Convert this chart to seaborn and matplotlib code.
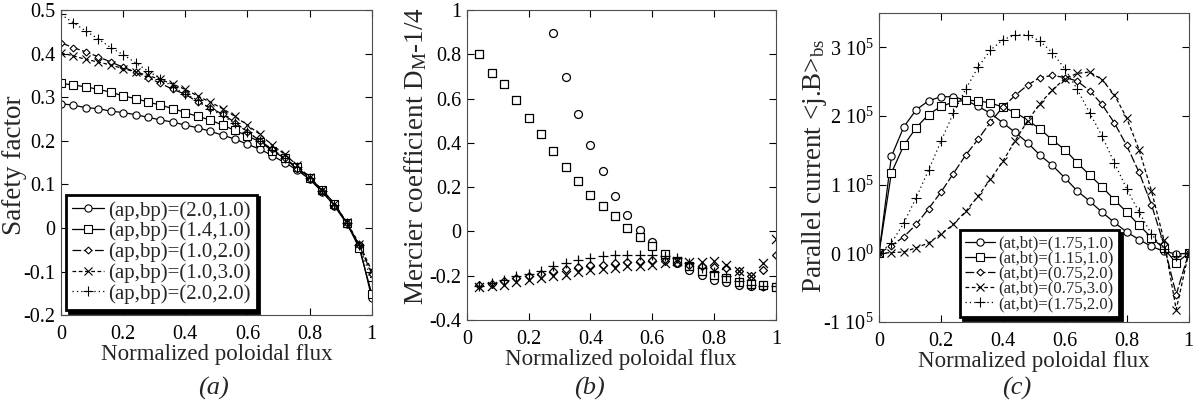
import numpy as np
import pandas as pd
import matplotlib.pyplot as plt
import seaborn as sns
from matplotlib.ticker import FuncFormatter

# eje x comun: flujo poloidal normalizado
flux = [0.00, 0.04, 0.08, 0.12, 0.16, 0.20, 0.24, 0.28, 0.32, 0.36, 0.40, 0.44, 0.48,
        0.52, 0.56, 0.60, 0.64, 0.68, 0.72, 0.76, 0.80, 0.84, 0.88, 0.92, 0.96, 1.00]

# (a) factor de seguridad
labels_a = ['(ap,bp)=(2.0,1.0)', '(ap,bp)=(1.4,1.0)', '(ap,bp)=(1.0,2.0)',
            '(ap,bp)=(1.0,3.0)', '(ap,bp)=(2.0,2.0)']
q_21 = [0.285, 0.282, 0.276, 0.274, 0.268, 0.265, 0.260, 0.254, 0.248, 0.243, 0.236, 0.230, 0.222,
        0.213, 0.204, 0.192, 0.181, 0.166, 0.150, 0.133, 0.112, 0.083, 0.051, 0.009, -0.040, -0.161]
q_1410 = [0.332, 0.328, 0.324, 0.318, 0.312, 0.303, 0.297, 0.289, 0.282, 0.274, 0.265, 0.256, 0.248,
          0.236, 0.224, 0.211, 0.198, 0.177, 0.160, 0.139, 0.115, 0.088, 0.056, 0.011, -0.047, -0.151]
q_12 = [0.425, 0.414, 0.404, 0.393, 0.381, 0.369, 0.358, 0.345, 0.332, 0.318, 0.307, 0.289, 0.276,
        0.261, 0.242, 0.221, 0.200, 0.181, 0.160, 0.135, 0.112, 0.085, 0.051, 0.011, -0.040, -0.105]
q_13 = [0.402, 0.395, 0.387, 0.381, 0.374, 0.366, 0.358, 0.350, 0.341, 0.330, 0.318, 0.303, 0.289,
        0.274, 0.256, 0.236, 0.215, 0.190, 0.169, 0.144, 0.116, 0.088, 0.055, 0.013, -0.037, -0.098]
q_22 = [0.490, 0.471, 0.452, 0.434, 0.414, 0.398, 0.379, 0.360, 0.343, 0.324, 0.307, 0.294, 0.274,
        0.257, 0.240, 0.221, 0.200, 0.179, 0.160, 0.139, 0.114, 0.085, 0.053, 0.011, -0.040, -0.121]

# (b) coeficiente de Mercier (solo puntos)
flux_b = flux[1:]
flux_b_circ = flux[7:]
dm_21 = [0.898, 0.699, 0.529, 0.389, 0.271, 0.161, 0.072, 0.005, -0.050, -0.105, -0.143, -0.173,
         -0.195, -0.218, -0.230, -0.241, -0.245, -0.248, -0.251]
dm_1410 = [0.800, 0.717, 0.665, 0.594, 0.511, 0.439, 0.365, 0.290, 0.229, 0.165, 0.117, 0.068,
           0.015, -0.027, -0.068, -0.102, -0.132, -0.158, -0.180, -0.195, -0.211, -0.230, -0.238,
           -0.241, -0.251]
dm_12 = [-0.244, -0.236, -0.226, -0.211, -0.200, -0.191, -0.180, -0.170, -0.161, -0.153, -0.150,
         -0.143, -0.138, -0.135, -0.131, -0.135, -0.143, -0.150, -0.158, -0.161, -0.167, -0.180,
         -0.200, -0.175, -0.105]
dm_13 = [-0.251, -0.245, -0.241, -0.230, -0.221, -0.211, -0.203, -0.195, -0.185, -0.176, -0.170,
         -0.165, -0.158, -0.155, -0.150, -0.143, -0.135, -0.140, -0.140, -0.135, -0.150, -0.180,
         -0.200, -0.143, -0.035]
dm_22 = [-0.245, -0.233, -0.218, -0.203, -0.192, -0.177, -0.158, -0.143, -0.131, -0.120, -0.113,
         -0.108, -0.105, -0.105, -0.105, -0.110, -0.120, -0.143, -0.165, -0.185, -0.203, -0.226,
         -0.241, -0.245, -0.248]

# (c) corriente paralela bootstrap
labels_c = ['(at,bt)=(1.75,1.0)', '(at,bt)=(1.15,1.0)', '(at,bt)=(0.75,2.0)',
            '(at,bt)=(0.75,3.0)', '(at,bt)=(1.75,2.0)']
jb_17510 = [0, 1.41e5, 1.84e5, 2.09e5, 2.22e5, 2.28e5, 2.28e5, 2.23e5, 2.14e5, 2.04e5, 1.90e5,
            1.76e5, 1.61e5, 1.43e5, 1.28e5, 1.10e5, 0.91e5, 0.76e5, 0.60e5, 0.45e5, 0.31e5,
            0.20e5, 0.10e5, 0.03e5, -0.01e5, 0]
jb_11510 = [0, 1.17e5, 1.57e5, 1.83e5, 2.02e5, 2.14e5, 2.20e5, 2.23e5, 2.22e5, 2.19e5, 2.13e5,
            2.05e5, 1.94e5, 1.81e5, 1.65e5, 1.51e5, 1.32e5, 1.14e5, 0.97e5, 0.78e5, 0.60e5,
            0.41e5, 0.23e5, 0.07e5, -0.14e5, 0]
jb_07520 = [0, 0.11e5, 0.24e5, 0.42e5, 0.65e5, 0.89e5, 1.16e5, 1.43e5, 1.66e5, 1.91e5, 2.13e5,
            2.30e5, 2.45e5, 2.56e5, 2.59e5, 2.56e5, 2.51e5, 2.37e5, 2.17e5, 1.90e5, 1.57e5,
            1.18e5, 0.71e5, 0.13e5, -0.60e5, 0]
jb_07530 = [0, 0.01e5, 0.02e5, 0.08e5, 0.15e5, 0.28e5, 0.42e5, 0.61e5, 0.83e5, 1.08e5, 1.34e5,
            1.64e5, 1.93e5, 2.18e5, 2.38e5, 2.54e5, 2.62e5, 2.64e5, 2.53e5, 2.31e5, 1.97e5,
            1.51e5, 0.91e5, 0.20e5, -0.82e5, 0]
jb_17520 = [0, 0.15e5, 0.44e5, 0.81e5, 1.21e5, 1.63e5, 2.04e5, 2.39e5, 2.71e5, 2.96e5, 3.11e5,
            3.18e5, 3.18e5, 3.09e5, 2.92e5, 2.69e5, 2.39e5, 2.05e5, 1.71e5, 1.32e5, 0.94e5,
            0.60e5, 0.28e5, 0.06e5, -0.04e5, 0]
ticks_c = [-1e5, 0, 1e5, 2e5, 3e5]
ticklabels_c = ['-1 10$^5$', '0 10$^0$', '1 10$^5$', '2 10$^5$', '3 10$^5$']

sns.set_style('ticks')
plt.rcParams['font.family'] = ['Liberation Serif', 'DejaVu Serif']
plt.rcParams['mathtext.fontset'] = 'custom'
plt.rcParams['mathtext.rm'] = 'Liberation Serif'
plt.rcParams['mathtext.it'] = 'Liberation Serif:italic'
plt.rcParams['axes.unicode_minus'] = False
plt.rcParams['xtick.direction'] = 'in'
plt.rcParams['ytick.direction'] = 'in'
plt.rcParams['xtick.top'] = True
plt.rcParams['ytick.right'] = True

# estilo de cada serie: marcador, tipo de linea, tamano
estilos = [('o', '-', 5.2), ('s', '-', 5.5), ('D', (0, (7, 2)), 3.5),
           ('x', (0, (3, 2)), 6), ('+', (0, (1, 2.5)), 7)]


def ajustar_ejes(ax, ylab, ypos):
    fmt = FuncFormatter(lambda v, p: f'{v:g}')
    ax.xaxis.set_major_formatter(fmt)
    ax.set_xlim(0, 1)
    ax.set_xticks([0, 0.2, 0.4, 0.6, 0.8, 1])
    ax.tick_params(labelsize=14.5, length=5, width=0.8, colors='k')
    ax.tick_params(axis='x', pad=7)
    ax.tick_params(axis='y', pad=4)
    for s in ax.spines.values():
        s.set_linewidth(0.8)
        s.set_color('0.3')
    ax.set_xlabel('Normalized poloidal flux', fontsize=16.5, labelpad=0)
    ax.set_ylabel(ylab, fontsize=19.5)
    ax.yaxis.set_label_coords(*ypos)


def leyenda(ax, size, hl, sp, **kw):
    lg = ax.legend(fontsize=size, frameon=True, fancybox=False, edgecolor='k', framealpha=1,
                   shadow={'color': 'k', 'alpha': 1}, handlelength=hl, handletextpad=0.2,
                   borderpad=0.3, labelspacing=sp, **kw)
    lg.get_frame().set_linewidth(2)


fig = plt.figure(figsize=(12, 4.05), dpi=100)

# ---- (a)
ax1 = fig.add_axes([0.0508, 0.222, 0.259, 0.753])
for serie, lab, (mk, ls, ms) in zip([q_21, q_1410, q_12, q_13, q_22], labels_a, estilos):
    sns.lineplot(x=flux, y=serie, ax=ax1, color='k', marker=mk, linestyle=ls, linewidth=0.9,
                 markersize=ms, markerfacecolor='white', markeredgecolor='k', markeredgewidth=0.8,
                 label=lab)
ax1.set_ylim(-0.2, 0.5)
ax1.yaxis.set_major_formatter(FuncFormatter(lambda v, p: f'{v:g}'))
ajustar_ejes(ax1, 'Safety factor', (-0.11, 0.49))
leyenda(ax1, 15, 1.5, 0.05, loc='lower left', borderaxespad=0.25)

# ---- (b)
ax2 = fig.add_axes([0.389, 0.21, 0.2575, 0.765])
puntos_b = [(flux_b_circ, dm_21), (flux_b, dm_1410), (flux_b, dm_12), (flux_b, dm_13), (flux_b, dm_22)]
for (xs, ys), (mk, ls, ms) in zip(puntos_b, estilos):
    if mk in ('x', '+'):
        sns.scatterplot(x=xs, y=ys, ax=ax2, marker=mk, color='k', s=(ms + 0.5) ** 2, linewidth=0.9)
    else:
        sns.scatterplot(x=xs, y=ys, ax=ax2, marker=mk, color='white', edgecolor='k',
                        s=(ms + 0.5) ** 2, linewidth=0.9)
ax2.set_ylim(-0.4, 1)
ax2.set_yticks([-0.4, -0.2, 0, 0.2, 0.4, 0.6, 0.8, 1])
ax2.yaxis.set_major_formatter(FuncFormatter(lambda v, p: f'{v:g}'))
ajustar_ejes(ax2, r'Mercier coefficient D$_\mathrm{M}$-1/4', (-0.122, 0.53))

# ---- (c)
ax3 = fig.add_axes([0.7325, 0.205, 0.258, 0.763])
for serie, lab, (mk, ls, ms) in zip([jb_17510, jb_11510, jb_07520, jb_07530, jb_17520], labels_c, estilos):
    sns.lineplot(x=flux, y=serie, ax=ax3, color='k', marker=mk, linestyle=ls, linewidth=0.9,
                 markersize=ms, markerfacecolor='white', markeredgecolor='k', markeredgewidth=0.8,
                 label=lab)
ax3.set_ylim(-1e5, 3.5e5)
ax3.set_yticks(ticks_c)
ax3.set_yticklabels(ticklabels_c)
ajustar_ejes(ax3, r'Parallel current <j.B>$_\mathrm{bs}$', (-0.163, 0.506))
leyenda(ax3, 12, 1.8, -0.05, loc='lower left', bbox_to_anchor=(0.262, 0.016), borderaxespad=0)

for xp, txt in [(213, '(a)'), (589, '(b)'), (1017, '(c)')]:
    fig.text(xp / 1200, 1 - 388 / 405, txt, fontsize=19, style='italic', ha='center', va='center')

fig.savefig('out.png', dpi=100)
